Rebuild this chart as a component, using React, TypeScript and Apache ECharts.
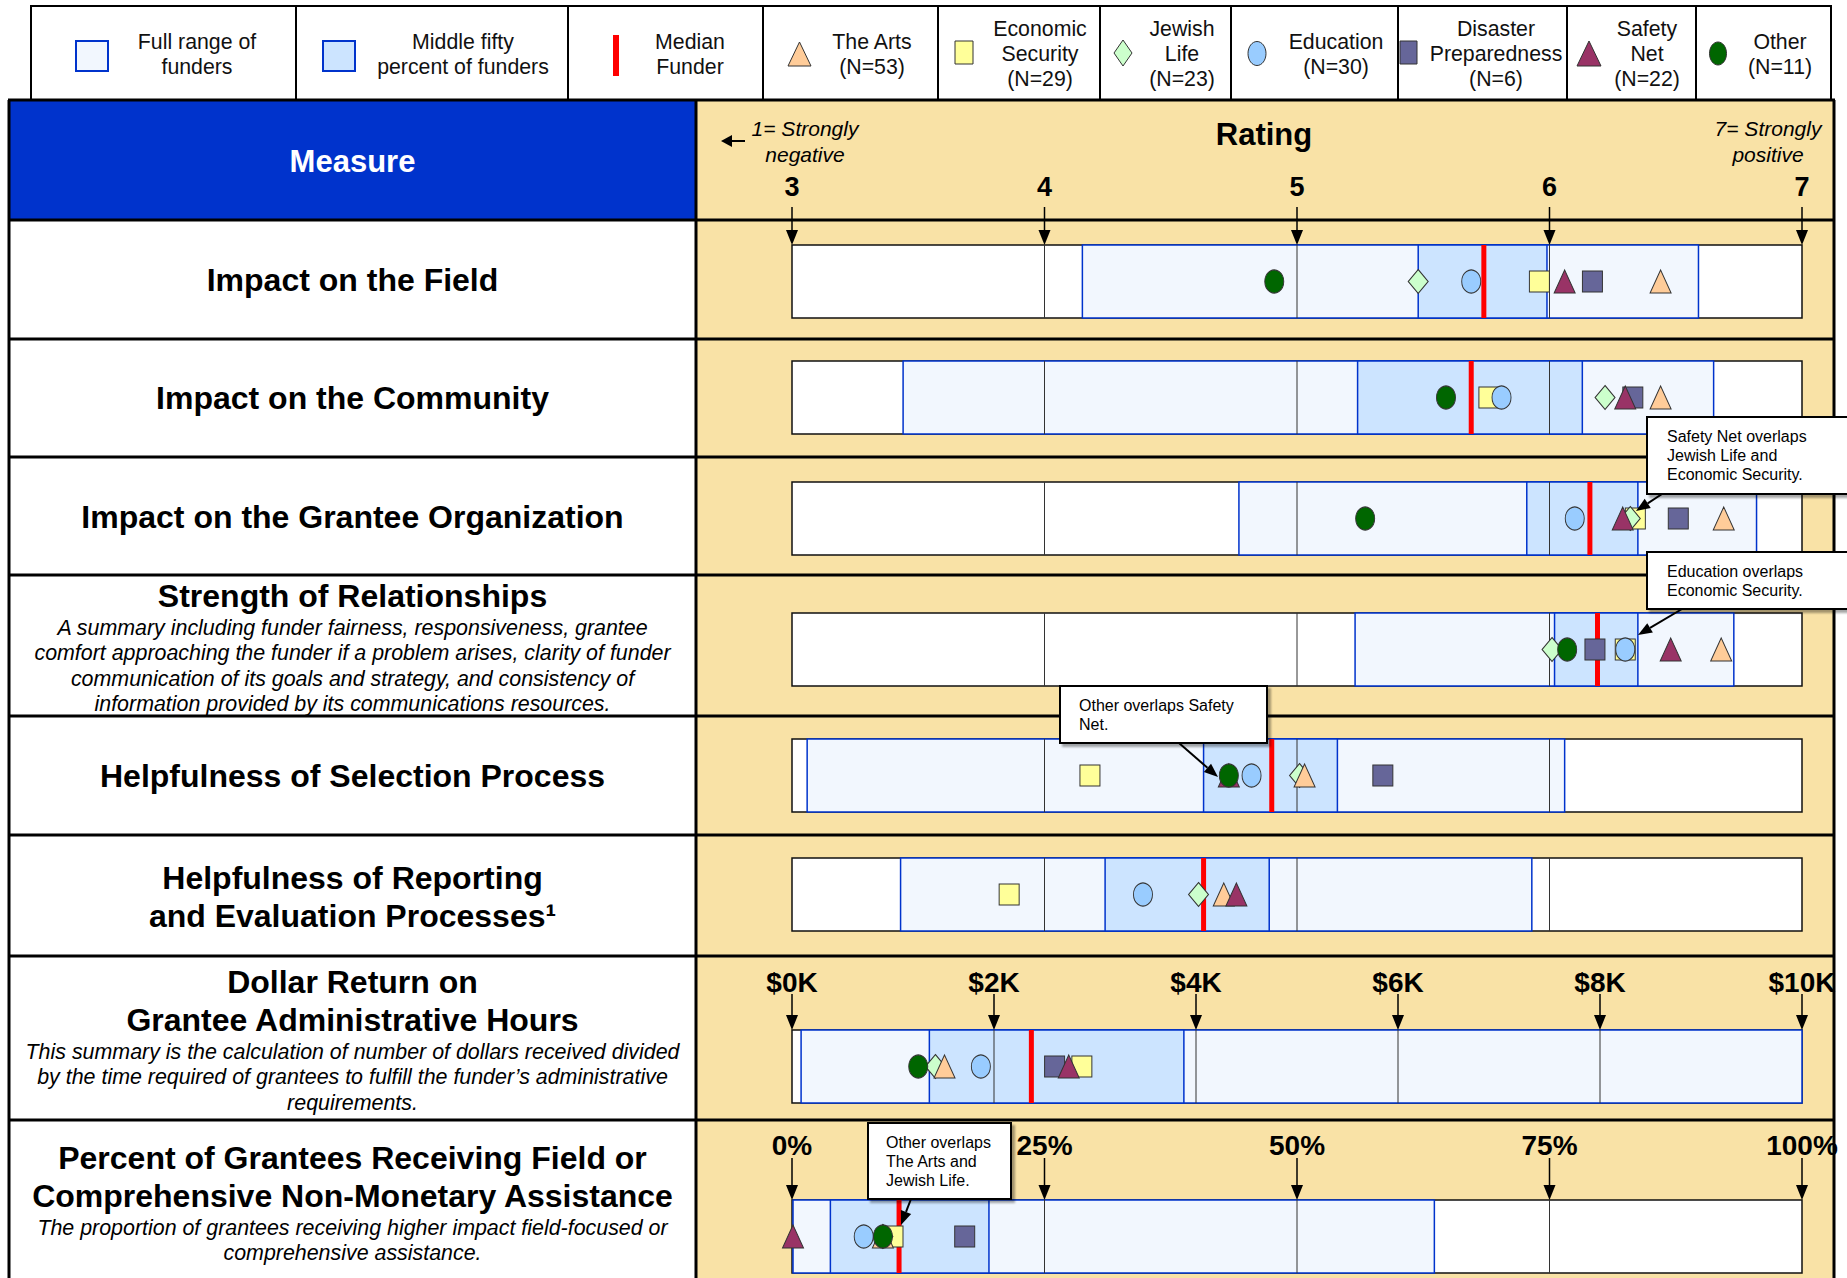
import React, { useEffect, useRef } from "react";
import * as echarts from "echarts";

const W = 1847;
const H = 1278;
const FONT = '"Liberation Sans", Arial, Helvetica, sans-serif';

// ---------- DATA ----------
const measureTitles = [
  "Impact on the Field",
  "Impact on the Community",
  "Impact on the Grantee Organization",
  "Strength of Relationships",
  "Helpfulness of Selection Process",
  "Helpfulness of Reporting\nand Evaluation Processes¹",
  "Dollar Return on\nGrantee Administrative Hours",
  "Percent of Grantees Receiving Field or\nComprehensive Non-Monetary Assistance",
];
const measureNotes = [
  "",
  "",
  "",
  "A summary including funder fairness, responsiveness, grantee\ncomfort approaching the funder if a problem arises, clarity of funder\ncommunication of its goals and strategy, and consistency of\ninformation provided by its communications resources.",
  "",
  "",
  "This summary is the calculation of number of dollars received divided\nby the time required of grantees to fulfill the funder\u2019s administrative\nrequirements.",
  "The proportion of grantees receiving higher impact field-focused or\ncomprehensive assistance.",
];

const ratingTicks = [3, 4, 5, 6, 7];
const dollarTicks = [0, 2, 4, 6, 8, 10];
const percentTicks = [0, 25, 50, 75, 100];

const fullLow = [4.15, 3.44, 4.77, 5.23, 3.06, 3.43, 0.09, 0.1];
const fullHigh = [6.59, 6.65, 6.82, 6.73, 6.06, 5.93, 10.0, 63.6];
const midLow = [5.48, 5.24, 5.91, 6.02, 4.63, 4.24, 1.36, 3.8];
const midHigh = [5.99, 6.13, 6.35, 6.35, 5.16, 4.89, 3.88, 19.5];
const medianFunder = [5.74, 5.69, 6.16, 6.19, 4.9, 4.63, 2.37, 10.6];

const artsValues = [6.44, 6.44, 6.69, 6.68, 5.03, 4.71, 1.51, 9.0];
const econValues = [5.96, 5.76, 6.34, 6.3, 4.18, 3.86, 2.87, 10.0];
const jewishValues = [5.48, 6.22, 6.32, 6.01, 5.01, 4.61, 1.42, 9.0];
const educationValues = [5.69, 5.81, 6.1, 6.3, 4.82, 4.39, 1.87, 7.1];
const disasterValues = [6.17, 6.33, 6.51, 6.18, 5.34, null, 2.6, 17.1];
const safetyValues = [6.06, 6.3, 6.29, 6.48, 4.73, 4.76, 2.74, 0.1];
const otherValues = [4.91, 5.59, 5.27, 6.07, 4.73, null, 1.25, 9.0];

const legendLabels = [
  "Full range of\nfunders",
  "Middle fifty\npercent of funders",
  "Median\nFunder",
  "The Arts\n(N=53)",
  "Economic\nSecurity\n(N=29)",
  "Jewish\nLife\n(N=23)",
  "Education\n(N=30)",
  "Disaster\nPreparedness\n(N=6)",
  "Safety\nNet\n(N=22)",
  "Other\n(N=11)",
];

// ---------- STYLE / LAYOUT ----------
const BLUE = "#0033CC";
const BEIGE = "#F9E2A6";
const FULL_FILL = "#F2F7FE";
const MID_FILL = "#CCE4FF";
const MEDIAN = "#FF0000";

const catStyles: Record<string, { symbol: string; size: number[]; color: string }> = {
  econ: { symbol: "rect", size: [20, 21], color: "#FFFF99" },
  disaster: { symbol: "rect", size: [20, 21], color: "#666699" },
  jewish: { symbol: "diamond", size: [20, 24], color: "#CCFFCC" },
  arts: { symbol: "triangle", size: [21, 23], color: "#FFCC99" },
  education: { symbol: "circle", size: [19, 23], color: "#99CCFF" },
  safety: { symbol: "triangle", size: [21, 23], color: "#993366" },
  other: { symbol: "circle", size: [19, 23], color: "#006600" },
};
const drawOrder: [string, (number | null)[]][] = [
  ["econ", econValues],
  ["disaster", disasterValues],
  ["jewish", jewishValues],
  ["arts", artsValues],
  ["education", educationValues],
  ["safety", safetyValues],
  ["other", otherValues],
];

const rowLines = [100, 220, 339, 457, 575, 716, 835, 956, 1120];
const gridTops = [245, 361, 482, 613, 739, 858, 1030, 1200];
const GRID_LEFT = 792;
const GRID_W = 1010;
const GRID_H = 73;
const titleY = [280, 398, 517, 596, 776, 896.5, 1001, 1177];
const noteY = [0, 0, 0, 666, 0, 0, 1077, 1240.5];
const COL_X = 352.5;

type AxisSpec = { ticks: number[]; fmt: (v: number) => string; showLabel: boolean; margin: number; font: number; arrowLen: number };
const rowAxes: AxisSpec[] = measureTitles.map((_, i) => {
  if (i === 6) return { ticks: dollarTicks, fmt: (v: number) => `$${v}K`, showLabel: true, margin: 34, font: 28, arrowLen: 36 };
  if (i === 7) return { ticks: percentTicks, fmt: (v: number) => `${v}%`, showLabel: true, margin: 41, font: 28, arrowLen: 42 };
  return { ticks: ratingTicks, fmt: (v: number) => `${v}`, showLabel: i === 0, margin: 45, font: 27, arrowLen: 38 };
});

function arrowEls(x1: number, y1: number, x2: number, y2: number, hl: number, hw: number, lw: number, z = 100) {
  const dx = x2 - x1, dy = y2 - y1, L = Math.hypot(dx, dy);
  const ux = dx / L, uy = dy / L;
  const bx = x2 - ux * hl, by = y2 - uy * hl, px = -uy, py = ux;
  return [
    { type: "line", z, shape: { x1, y1, x2: bx, y2: by }, style: { stroke: "#000", lineWidth: lw } },
    {
      type: "polygon", z,
      shape: { points: [[x2, y2], [bx + (px * hw) / 2, by + (py * hw) / 2], [bx - (px * hw) / 2, by - (py * hw) / 2]] },
      style: { fill: "#000" },
    },
  ];
}

function text(x: number, y: number, t: string, font: string, extra: any = {}) {
  return {
    type: "text", x, y, z: 110,
    style: { text: t, font, fill: "#000", align: "center", verticalAlign: "middle", ...extra },
  };
}

function boxRenderer(ticks: number[]) {
  return (params: any, api: any) => {
    const fl = api.value(0), fh = api.value(1), ml = api.value(2), mh = api.value(3), md = api.value(4);
    const a = api.coord([fl, 0]), b = api.coord([fh, 1]);
    const c = api.coord([ml, 0]), d = api.coord([mh, 1]);
    const children: any[] = [
      { type: "rect", shape: { x: a[0], y: b[1], width: b[0] - a[0], height: a[1] - b[1] }, style: { fill: FULL_FILL, stroke: BLUE, lineWidth: 1.5 } },
      { type: "rect", shape: { x: c[0], y: d[1], width: d[0] - c[0], height: c[1] - d[1] }, style: { fill: MID_FILL, stroke: BLUE, lineWidth: 1.5 } },
    ];
    ticks.slice(1, -1).forEach((t) => {
      const p0 = api.coord([t, 0]), p1 = api.coord([t, 1]);
      children.push({ type: "line", shape: { x1: p0[0], y1: p0[1], x2: p1[0], y2: p1[1] }, style: { stroke: "#333", lineWidth: 1 } });
    });
    const m0 = api.coord([md, 0]), m1 = api.coord([md, 1]);
    children.push({ type: "line", shape: { x1: m0[0], y1: m0[1], x2: m1[0], y2: m1[1] }, style: { stroke: MEDIAN, lineWidth: 5 } });
    return { type: "group", children };
  };
}

function arrowRenderer(len: number) {
  return (params: any, api: any) => {
    const p = api.coord([api.value(0), 1]);
    const hl = 15, hw = 12;
    return {
      type: "group",
      children: [
        { type: "line", shape: { x1: p[0], y1: p[1] - len, x2: p[0], y2: p[1] - hl }, style: { stroke: "#000", lineWidth: 1.5 } },
        { type: "polygon", shape: { points: [[p[0], p[1]], [p[0] - hw / 2, p[1] - hl], [p[0] + hw / 2, p[1] - hl]] }, style: { fill: "#000" } },
      ],
    };
  };
}

function buildOption() {
  const grid: any[] = [], xAxis: any[] = [], yAxis: any[] = [], series: any[] = [];
  measureTitles.forEach((_, i) => {
    const ax = rowAxes[i];
    grid.push({
      left: GRID_LEFT, top: gridTops[i], width: GRID_W, height: GRID_H,
      show: true, backgroundColor: "#fff", borderColor: "#111", borderWidth: 1.5,
    });
    xAxis.push({
      type: "value", gridIndex: i, position: "top",
      min: ax.ticks[0], max: ax.ticks[ax.ticks.length - 1], interval: ax.ticks[1] - ax.ticks[0],
      axisLine: { show: false }, axisTick: { show: false }, splitLine: { show: false },
      axisLabel: {
        show: ax.showLabel, margin: ax.margin, formatter: ax.fmt, showMinLabel: true, showMaxLabel: true,
        fontFamily: FONT, fontWeight: "bold", fontSize: ax.font, color: "#000",
      },
    });
    yAxis.push({ type: "value", gridIndex: i, min: 0, max: 1, show: false });
    series.push({
      type: "custom", coordinateSystem: "cartesian2d", xAxisIndex: i, yAxisIndex: i,
      encode: { x: [0, 1, 2, 3, 4] }, clip: false, silent: true,
      data: [[fullLow[i], fullHigh[i], midLow[i], midHigh[i], medianFunder[i]]],
      renderItem: boxRenderer(ax.ticks), z: 2,
    });
    drawOrder.forEach(([key, vals]) => {
      const v = vals[i];
      const st = catStyles[key];
      series.push({
        type: "scatter", name: key, xAxisIndex: i, yAxisIndex: i, clip: false, z: 3,
        symbol: st.symbol, symbolSize: st.size,
        itemStyle: { color: st.color, borderColor: "#333", borderWidth: 1, opacity: 1 },
        data: v == null ? [] : [[v, 0.5]],
      });
    });
    if (ax.showLabel) {
      series.push({
        type: "custom", coordinateSystem: "cartesian2d", xAxisIndex: i, yAxisIndex: i,
        encode: { x: 0, y: 1 }, clip: false, silent: true, z: 4,
        data: ax.ticks.map((t) => [t, 1]),
        renderItem: arrowRenderer(ax.arrowLen),
      });
    }
  });

  const g: any[] = [];
  // backgrounds
  g.push({ type: "rect", z: -5, shape: { x: 696, y: 100, width: 1138, height: H - 100 }, style: { fill: BEIGE } });
  g.push({ type: "rect", z: -5, shape: { x: 9, y: 100, width: 687, height: 120 }, style: { fill: BLUE } });
  // table lines
  rowLines.forEach((y) => g.push({ type: "line", z: 100, shape: { x1: 8, y1: y, x2: 1835, y2: y }, style: { stroke: "#000", lineWidth: 3 } }));
  [9, 696, 1834].forEach((x) => g.push({ type: "line", z: 100, shape: { x1: x, y1: 100, x2: x, y2: H }, style: { stroke: "#000", lineWidth: 3 } }));
  // legend frame
  const LB = [31, 296, 568, 763, 938, 1100, 1231, 1398, 1567, 1696, 1831];
  g.push({ type: "rect", z: 100, shape: { x: 31, y: 6, width: 1800, height: 94 }, style: { fill: "none", stroke: "#000", lineWidth: 2 } });
  LB.slice(1, -1).forEach((x) => g.push({ type: "line", z: 100, shape: { x1: x, y1: 6, x2: x, y2: 100 }, style: { stroke: "#000", lineWidth: 2 } }));
  const legendCx = [197, 463, 690, 872, 1040, 1182, 1336, 1496, 1647, 1780];
  legendLabels.forEach((t, k) => g.push(text(legendCx[k], 54, t, `21.3px ${FONT}`, { lineHeight: 25, fill: "#111" })));
  const ic = { stroke: "#333", lineWidth: 1 };
  g.push({ type: "rect", z: 100, shape: { x: 76, y: 41, width: 32, height: 30 }, style: { fill: FULL_FILL, stroke: BLUE, lineWidth: 2 } });
  g.push({ type: "rect", z: 100, shape: { x: 323, y: 41, width: 32, height: 30 }, style: { fill: MID_FILL, stroke: BLUE, lineWidth: 2 } });
  g.push({ type: "rect", z: 100, shape: { x: 613, y: 35, width: 6, height: 41 }, style: { fill: MEDIAN } });
  g.push({ type: "polygon", z: 100, shape: { points: [[799.5, 42], [811, 66], [788, 66]] }, style: { fill: catStyles.arts.color, ...ic } });
  g.push({ type: "rect", z: 100, shape: { x: 955, y: 41, width: 18, height: 23 }, style: { fill: catStyles.econ.color, ...ic } });
  g.push({ type: "polygon", z: 100, shape: { points: [[1123, 40], [1132, 53], [1123, 66], [1114, 53]] }, style: { fill: catStyles.jewish.color, ...ic } });
  g.push({ type: "ellipse", z: 100, shape: { cx: 1257, cy: 53.5, rx: 9, ry: 12 }, style: { fill: catStyles.education.color, ...ic } });
  g.push({ type: "rect", z: 100, shape: { x: 1400, y: 41, width: 17, height: 23 }, style: { fill: catStyles.disaster.color, ...ic } });
  g.push({ type: "polygon", z: 100, shape: { points: [[1589, 41], [1601, 66], [1577, 66]] }, style: { fill: catStyles.safety.color, ...ic } });
  g.push({ type: "ellipse", z: 100, shape: { cx: 1718, cy: 53.5, rx: 8.5, ry: 11.5 }, style: { fill: catStyles.other.color, ...ic } });

  // header texts
  g.push(text(COL_X, 161, "Measure", `bold 31px ${FONT}`, { fill: "#fff" }));
  g.push(text(1264, 134, "Rating", `bold 31px ${FONT}`));
  g.push(text(805, 141, "1= Strongly\nnegative", `italic 21px ${FONT}`, { lineHeight: 26 }));
  g.push(text(1768, 141, "7= Strongly\npositive", `italic 21px ${FONT}`, { lineHeight: 26 }));
  g.push(...arrowEls(745, 141, 721, 141, 11, 12, 2));

  // measure column texts
  measureTitles.forEach((t, i) => {
    g.push(text(COL_X, titleY[i], t, `bold 32px ${FONT}`, { lineHeight: 38 }));
    if (measureNotes[i]) {
      const n = measureNotes[i].split("\n").length;
      g.push(text(COL_X, noteY[i], measureNotes[i], `italic 21.4px ${FONT}`, { lineHeight: n > 2 ? 25.5 : 25 }));
    }
  });

  // callouts
  const callouts = [
    { x: 1647, y: 417, w: 215, h: 77, tx: 1667, t: "Safety Net overlaps\nJewish Life and\nEconomic Security.", a: [1662, 494, 1636, 511] },
    { x: 1647, y: 552, w: 215, h: 57, tx: 1667, t: "Education overlaps\nEconomic Security.", a: [1682, 609, 1638, 635] },
    { x: 1060, y: 686, w: 207, h: 57, tx: 1079, t: "Other overlaps Safety\nNet.", a: [1179, 743, 1218, 777] },
    { x: 868, y: 1123, w: 143, h: 76, tx: 886, t: "Other overlaps\nThe Arts and\nJewish Life.", a: [911, 1199, 901, 1225] },
  ];
  callouts.forEach((c) => {
    g.push({
      type: "rect", z: 120, shape: { x: c.x, y: c.y, width: c.w, height: c.h },
      style: { fill: "#fff", stroke: "#000", lineWidth: 2, shadowColor: "rgba(0,0,0,0.35)", shadowOffsetX: 3, shadowOffsetY: 3, shadowBlur: 2 },
    });
    g.push({
      type: "text", z: 121, x: c.tx, y: c.y + 10,
      style: { text: c.t, font: `16px ${FONT}`, fill: "#000", align: "left", verticalAlign: "top", lineHeight: 19 },
    });
    g.push(...arrowEls(c.a[0], c.a[1], c.a[2], c.a[3], 14, 11, 2, 121));
  });

  return {
    animation: false,
    backgroundColor: "#fff",
    grid, xAxis, yAxis, series,
    graphic: { elements: g },
  };
}

export default function App() {
  const ref = useRef<HTMLDivElement>(null);
  useEffect(() => {
    const chart = echarts.init(ref.current!, null, { renderer: "svg", width: W, height: H });
    chart.setOption(buildOption() as any);
    return () => chart.dispose();
  }, []);
  return <div ref={ref} style={{ position: "absolute", left: 0, top: 0, width: W, height: H }} />;
}
